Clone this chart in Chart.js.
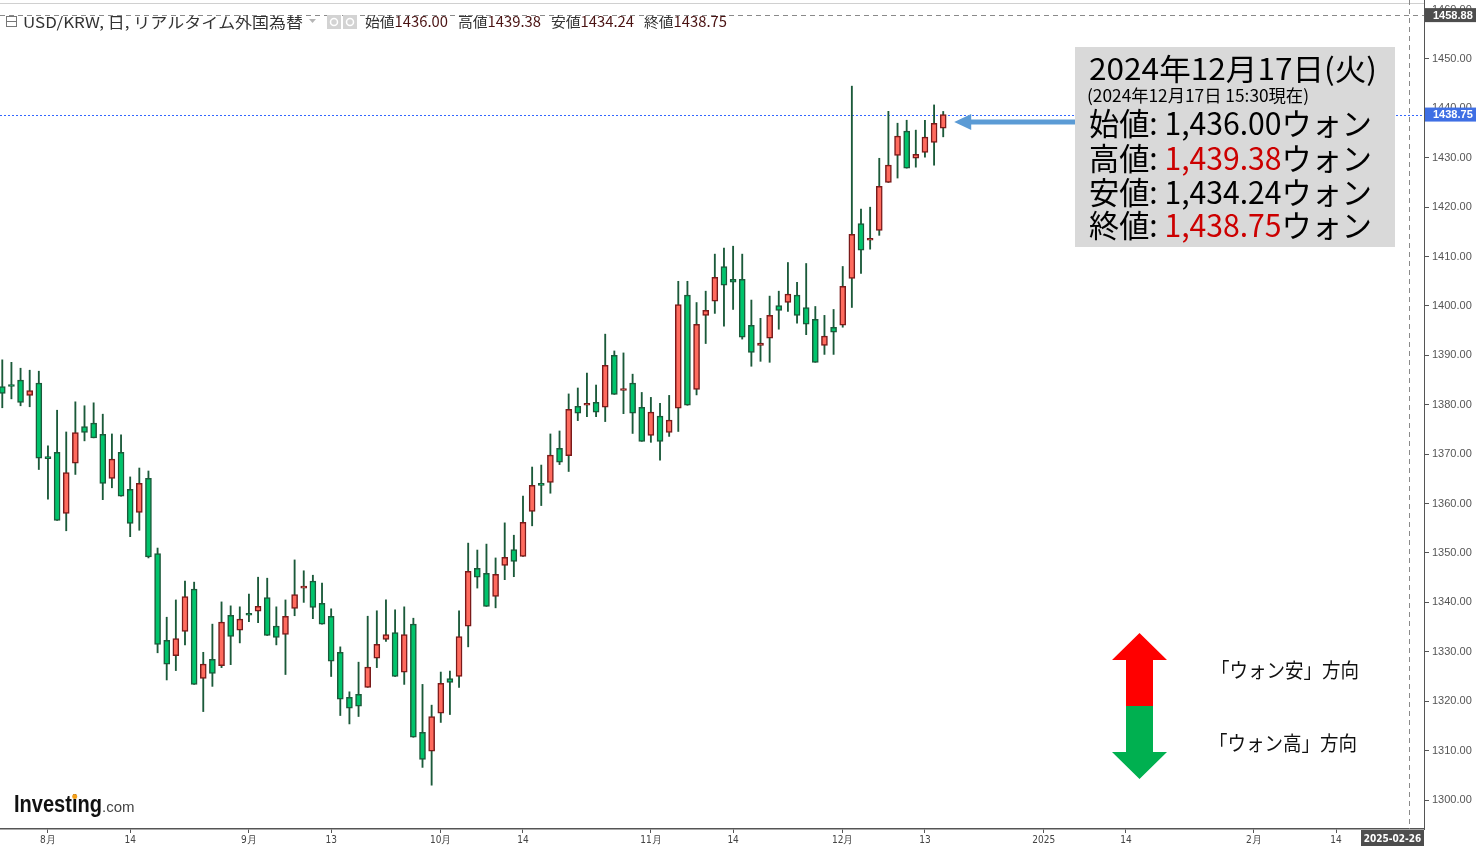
<!DOCTYPE html>
<html lang="ja">
<head>
<meta charset="utf-8">
<title>USD/KRW 日足</title>
<script src="https://cdn.jsdelivr.net/npm/chart.js@4.4.1/dist/chart.umd.min.js"></script>
<style>
  html, body { margin: 0; padding: 0; background: #fff; }
  #wrap { position: relative; width: 1476px; height: 846px; }
</style>
</head>
<body>
<div id="wrap"><canvas id="chart"></canvas></div>
<script>
// trading days shown (FX, weekdays only)
const dates = [
  "2024-07-25","2024-07-26","2024-07-29","2024-07-30","2024-07-31",
  "2024-08-01","2024-08-02","2024-08-05","2024-08-06","2024-08-07","2024-08-08","2024-08-09",
  "2024-08-12","2024-08-13","2024-08-14","2024-08-15","2024-08-16","2024-08-19","2024-08-20",
  "2024-08-21","2024-08-22","2024-08-23","2024-08-26","2024-08-27","2024-08-28","2024-08-29","2024-08-30",
  "2024-09-02","2024-09-03","2024-09-04","2024-09-05","2024-09-06","2024-09-09","2024-09-10",
  "2024-09-11","2024-09-12","2024-09-13","2024-09-16","2024-09-17","2024-09-18","2024-09-19",
  "2024-09-20","2024-09-23","2024-09-24","2024-09-25","2024-09-26","2024-09-27","2024-09-30",
  "2024-10-01","2024-10-02","2024-10-03","2024-10-04","2024-10-07","2024-10-08","2024-10-09",
  "2024-10-10","2024-10-11","2024-10-14","2024-10-15","2024-10-16","2024-10-17","2024-10-18",
  "2024-10-21","2024-10-22","2024-10-23","2024-10-24","2024-10-25","2024-10-28","2024-10-29",
  "2024-10-30","2024-10-31",
  "2024-11-01","2024-11-04","2024-11-05","2024-11-06","2024-11-07","2024-11-08","2024-11-11",
  "2024-11-12","2024-11-13","2024-11-14","2024-11-15","2024-11-18","2024-11-19","2024-11-20",
  "2024-11-21","2024-11-22","2024-11-25","2024-11-26","2024-11-27","2024-11-28","2024-11-29",
  "2024-12-02","2024-12-03","2024-12-04","2024-12-05","2024-12-06","2024-12-09","2024-12-10",
  "2024-12-11","2024-12-12","2024-12-13","2024-12-16","2024-12-17"
];

const openPx = [
  1383.7, 1383.8, 1385.0, 1381.9, 1384.4, 1369.2, 1370.4, 1358.0, 1368.2, 1375.6,
  1376.3, 1374.0, 1365.1, 1370.4, 1362.9, 1358.2, 1365.1, 1349.9, 1332.3, 1329.2,
  1334.1, 1342.7, 1324.6, 1328.5, 1327.2, 1337.4, 1334.4, 1337.5, 1338.2, 1341.0,
  1335.2, 1333.5, 1338.8, 1342.9, 1344.3, 1339.8, 1337.2, 1329.9, 1320.8, 1321.4,
  1322.8, 1328.7, 1332.5, 1333.9, 1325.9, 1335.6, 1313.7, 1309.9, 1317.6, 1324.6,
  1325.0, 1335.2, 1346.9, 1345.9, 1341.2, 1347.5, 1350.7, 1349.3, 1358.4, 1364.1,
  1364.3, 1371.2, 1369.7, 1379.7, 1379.9, 1380.5, 1379.5, 1390.0, 1382.9, 1384.4,
  1379.5, 1373.8, 1377.7, 1374.4, 1379.3, 1402.2, 1383.1, 1398.1, 1401.0, 1408.0,
  1405.4, 1405.4, 1396.1, 1392.0, 1393.5, 1400.1, 1400.7, 1402.2, 1399.7, 1397.3,
  1392.0, 1395.7, 1396.1, 1405.6, 1416.7, 1413.3, 1415.3, 1425.0, 1430.5, 1435.4,
  1429.9, 1431.1, 1433.1, 1436.00
];
const highPx = [
  1389.1, 1388.6, 1387.4, 1387.0, 1386.8, 1371.7, 1378.9, 1374.5, 1380.6, 1379.8,
  1380.4, 1378.1, 1374.1, 1373.9, 1365.4, 1367.2, 1366.6, 1351.0, 1337.0, 1340.5,
  1344.3, 1344.1, 1329.9, 1335.6, 1340.1, 1339.3, 1339.1, 1341.7, 1345.1, 1344.9,
  1339.1, 1340.5, 1348.6, 1346.4, 1345.5, 1343.9, 1338.7, 1331.0, 1321.9, 1327.9,
  1337.2, 1338.3, 1340.5, 1338.5, 1339.1, 1336.8, 1323.4, 1319.2, 1325.9, 1326.1,
  1338.3, 1352.0, 1350.6, 1351.8, 1349.0, 1356.1, 1353.6, 1361.5, 1367.4, 1367.8,
  1374.1, 1374.7, 1382.2, 1383.4, 1386.4, 1384.0, 1394.3, 1390.9, 1390.5, 1386.2,
  1382.5, 1381.5, 1380.3, 1381.9, 1405.0, 1405.0, 1400.7, 1403.0, 1410.5, 1411.7,
  1412.1, 1410.5, 1401.2, 1397.5, 1402.0, 1403.0, 1408.8, 1404.8, 1408.6, 1399.9,
  1398.1, 1399.3, 1408.0, 1444.5, 1419.6, 1420.0, 1429.9, 1439.4, 1437.0, 1437.6,
  1435.6, 1437.6, 1440.7, 1439.38
];
const lowPx = [
  1379.4, 1381.2, 1379.8, 1379.6, 1366.9, 1360.9, 1356.6, 1354.5, 1365.9, 1372.7,
  1373.3, 1360.8, 1363.2, 1361.5, 1353.3, 1354.6, 1349.0, 1329.8, 1324.3, 1326.2,
  1331.4, 1323.4, 1317.9, 1323.0, 1326.8, 1327.4, 1331.8, 1336.1, 1335.9, 1333.3,
  1331.4, 1325.4, 1337.3, 1340.0, 1336.7, 1335.6, 1325.0, 1317.1, 1315.4, 1316.9,
  1322.8, 1326.8, 1332.1, 1325.0, 1323.4, 1312.7, 1306.6, 1303.0, 1315.7, 1317.3,
  1322.8, 1331.0, 1342.9, 1339.2, 1338.9, 1344.6, 1345.2, 1349.3, 1355.5, 1359.6,
  1362.1, 1367.9, 1366.5, 1376.8, 1377.6, 1377.6, 1376.6, 1382.1, 1378.2, 1374.2,
  1372.6, 1372.4, 1368.8, 1373.6, 1374.6, 1379.9, 1382.0, 1392.4, 1398.5, 1395.9,
  1399.3, 1393.3, 1387.8, 1388.8, 1388.6, 1395.3, 1398.9, 1396.5, 1394.2, 1388.6,
  1390.2, 1390.2, 1395.7, 1399.7, 1406.6, 1411.5, 1414.3, 1425.0, 1425.9, 1427.9,
  1428.1, 1430.1, 1428.5, 1434.24
];
const closePx = [
  1382.3, 1383.7, 1380.5, 1382.9, 1369.2, 1369.1, 1356.6, 1366.3, 1374.4, 1374.4,
  1373.3, 1364.1, 1369.0, 1361.5, 1356.0, 1364.1, 1349.2, 1331.5, 1327.5, 1332.7,
  1341.2, 1323.4, 1327.5, 1325.6, 1336.0, 1333.1, 1336.6, 1337.4, 1339.2, 1333.3,
  1332.9, 1337.2, 1341.6, 1343.3, 1339.0, 1335.6, 1328.1, 1320.4, 1318.6, 1319.0,
  1326.9, 1331.5, 1333.5, 1325.0, 1333.5, 1312.7, 1308.2, 1316.9, 1323.6, 1323.8,
  1333.1, 1346.3, 1345.1, 1339.2, 1345.7, 1349.1, 1348.3, 1356.2, 1363.7, 1363.7,
  1369.8, 1368.4, 1379.1, 1378.3, 1380.0, 1378.5, 1388.0, 1382.1, 1383.3, 1378.3,
  1372.6, 1378.5, 1372.6, 1376.9, 1400.3, 1379.9, 1396.3, 1399.1, 1405.8, 1404.2,
  1404.8, 1393.7, 1390.6, 1392.5, 1398.1, 1399.1, 1402.4, 1398.1, 1396.3, 1388.6,
  1393.9, 1394.7, 1404.0, 1414.5, 1411.3, 1413.4, 1424.2, 1428.5, 1434.4, 1427.9,
  1430.7, 1434.2, 1437.0, 1438.75
];

// x axis: bar index positions of the tick labels (future days continue the weekday count)
const xTickIdx = [5, 14, 27, 36, 48, 57, 71, 80, 92, 101, 114, 123, 137, 146];
const xTickLabels = ["8月", "14", "9月", "13", "10月", "14", "11月", "14", "12月", "13", "2025", "14", "2月", "14"];
const yTicks = [1300, 1310, 1320, 1330, 1340, 1350, 1360, 1370, 1380, 1390, 1400, 1410, 1420, 1430, 1440, 1450, 1460];

// crosshair shown in the screenshot
const crossIdx = 154;
const crossDate = "2025-02-26";
const crossPrice = 1458.88;

const quoteNames = ["始値", "高値", "安値", "終値"];

const UP_FILL = "#ff6b5e", UP_LINE = "#7a1a1a";
const DN_FILL = "#00c46c", DN_LINE = "#1b5a3a";
const WICK = "#1b5a3a";
const JP = '"Noto Sans CJK JP", "Noto Sans", sans-serif';
const LAT = '"Liberation Sans", Arial, sans-serif';
const NARROW = '"Liberation Sans Narrow", "DejaVu Sans Condensed", "Liberation Sans", sans-serif';

const last = closePx.length - 1;
const isUp = closePx.map((c, i) => c >= openPx[i]);

function drawSegs(ctx, segs, x, y, font, width) {
  ctx.save();
  ctx.font = font;
  ctx.textBaseline = "middle";
  ctx.textAlign = "left";
  let total = 0;
  segs.forEach(s => { total += ctx.measureText(s[0]).width; });
  ctx.translate(x, y);
  ctx.scale(width / total, 1);
  let cx = 0;
  segs.forEach(s => {
    ctx.fillStyle = s[1];
    ctx.fillText(s[0], cx, 0);
    cx += ctx.measureText(s[0]).width;
  });
  ctx.restore();
}

function fmt(v) {
  return v.toLocaleString("en-US", { minimumFractionDigits: 2, maximumFractionDigits: 2 });
}

const overlay = {
  id: "overlay",
  beforeDatasetsDraw(chart) {
    const { ctx, chartArea: a, scales: { x, y } } = chart;
    ctx.save();
    ctx.lineWidth = 1;
    ctx.strokeStyle = "#d0d0d0";
    ctx.beginPath(); ctx.moveTo(0, 3.5); ctx.lineTo(a.right, 3.5); ctx.stroke();

    // crosshair lines
    ctx.setLineDash([5, 4]);
    ctx.strokeStyle = "#8a8a8a";
    const cy = Math.round(y.getPixelForValue(crossPrice)) + 0.5;
    ctx.beginPath(); ctx.moveTo(a.left, cy); ctx.lineTo(a.right, cy); ctx.stroke();
    const cx = Math.round(x.getPixelForValue(crossIdx)) + 0.5;
    ctx.beginPath(); ctx.moveTo(cx, a.top); ctx.lineTo(cx, a.bottom); ctx.stroke();

    // last price line
    ctx.setLineDash([2, 2]);
    ctx.strokeStyle = "#3366ff";
    const ly = Math.round(y.getPixelForValue(closePx[last])) + 0.5;
    ctx.beginPath(); ctx.moveTo(a.left, ly); ctx.lineTo(a.right, ly); ctx.stroke();
    ctx.restore();
  },
  afterDraw(chart) {
    const { ctx, chartArea: a, scales: { x, y } } = chart;
    ctx.save();

    // price tags on the right axis
    function priceTag(val, bg) {
      const py = y.getPixelForValue(val);
      ctx.fillStyle = bg;
      ctx.fillRect(a.right + 1, py - 7, chart.width - a.right - 1, 14);
      ctx.fillStyle = "#fff";
      ctx.font = "bold 11px " + LAT;
      ctx.textBaseline = "middle";
      ctx.textAlign = "left";
      ctx.fillText(val.toFixed(2), a.right + 9, py + 0.5);
    }
    priceTag(crossPrice, "#4d4d4d");
    priceTag(closePx[last], "#3f6fe4");

    // date tag on the bottom axis
    const cx = x.getPixelForValue(crossIdx);
    const tw = 63;
    const tl = Math.min(cx - tw / 2, a.right - tw);
    ctx.fillStyle = "#4d4d4d";
    ctx.fillRect(tl, a.bottom + 1, tw, chart.height - a.bottom - 1);
    ctx.fillStyle = "#fff";
    ctx.font = "bold 10px " + NARROW;
    ctx.textAlign = "center";
    ctx.textBaseline = "middle";
    ctx.fillText(crossDate, tl + tw / 2, a.bottom + 10);

    // header line
    ctx.strokeStyle = "#777";
    ctx.lineWidth = 1;
    ctx.strokeRect(6.5, 16.5, 10, 10);
    ctx.beginPath(); ctx.moveTo(6.5, 21.5); ctx.lineTo(16.5, 21.5); ctx.stroke();
    drawSegs(ctx, [["USD/KRW, 日, リアルタイム外国為替", "#333"]], 23, 22, "15px " + JP, 280);
    ctx.fillStyle = "#b5b5b5";
    ctx.beginPath(); ctx.moveTo(309, 19); ctx.lineTo(316, 19); ctx.lineTo(312.5, 23); ctx.closePath(); ctx.fill();
    [327, 343].forEach(ix => {
      ctx.fillStyle = "#d3d3d3";
      ctx.fillRect(ix, 15, 14, 14);
      ctx.strokeStyle = "#fff";
      ctx.lineWidth = 1.5;
      ctx.beginPath(); ctx.arc(ix + 7, 22, 3.5, 0, Math.PI * 2); ctx.stroke();
    });
    const hdrVals = [openPx[last], highPx[last], lowPx[last], closePx[last]];
    quoteNames.forEach((nm, i) => {
      drawSegs(ctx, [[nm, "#333"], [hdrVals[i].toFixed(2), "#4a1212"]], 365 + i * 93, 22, "14px " + JP, 83);
    });

    // quote box
    ctx.fillStyle = "#d9d9d9";
    ctx.fillRect(1075, 47, 320, 200);
    drawSegs(ctx, [["2024年12月17日(火)", "#000"]], 1089, 69, "30px " + JP, 288);
    drawSegs(ctx, [["(2024年12月17日 15:30現在)", "#000"]], 1087, 96, "17px " + JP, 222);
    const rowY = [123, 158, 192, 225];
    const rowCol = ["#000", "#cc0000", "#000", "#cc0000"];
    quoteNames.forEach((nm, i) => {
      drawSegs(ctx, [[nm, "#000"], [": ", "#000"], [fmt(hdrVals[i]), rowCol[i]], ["ウォン", "#000"]],
        1089, rowY[i], "31px " + JP, 283);
    });

    // blue arrow pointing to the last candle
    const tipX = x.getPixelForValue(last) + 11;
    ctx.fillStyle = "#5b9bd5";
    ctx.beginPath();
    ctx.moveTo(tipX, 122);
    ctx.lineTo(tipX + 17, 114);
    ctx.lineTo(tipX + 17, 119.5);
    ctx.lineTo(1075, 119.5);
    ctx.lineTo(1075, 124.5);
    ctx.lineTo(tipX + 17, 124.5);
    ctx.lineTo(tipX + 17, 130);
    ctx.closePath();
    ctx.fill();

    // direction arrows
    ctx.fillStyle = "#ff0000";
    ctx.beginPath();
    ctx.moveTo(1139.5, 633); ctx.lineTo(1167, 660); ctx.lineTo(1153, 660); ctx.lineTo(1153, 706);
    ctx.lineTo(1126, 706); ctx.lineTo(1126, 660); ctx.lineTo(1112, 660); ctx.closePath(); ctx.fill();
    ctx.fillStyle = "#00b050";
    ctx.beginPath();
    ctx.moveTo(1126, 706); ctx.lineTo(1153, 706); ctx.lineTo(1153, 752); ctx.lineTo(1167, 752);
    ctx.lineTo(1139.5, 779); ctx.lineTo(1112, 752); ctx.lineTo(1126, 752); ctx.closePath(); ctx.fill();
    drawSegs(ctx, [["「ウォン安」方向", "#111"]], 1211, 670, "20px " + JP, 148);
    drawSegs(ctx, [["「ウォン高」方向", "#111"]], 1209, 743, "20px " + JP, 148);

    // logo
    ctx.font = "bold 23px " + LAT;
    ctx.textBaseline = "alphabetic";
    ctx.textAlign = "left";
    const wInv = ctx.measureText("Investing").width;
    const sInv = 88 / wInv;
    const dotX = 14 + sInv * (ctx.measureText("Invest").width + ctx.measureText("i").width / 2);
    ctx.save();
    ctx.translate(14, 812);
    ctx.scale(sInv, 1);
    ctx.fillStyle = "#111";
    ctx.fillText("Investing", 0, 0);
    ctx.restore();
    ctx.fillStyle = "#f5a01a";
    ctx.beginPath(); ctx.arc(dotX, 796.5, 2.5, 0, Math.PI * 2); ctx.fill();
    ctx.font = "15px " + LAT;
    ctx.fillStyle = "#444";
    ctx.fillText(".com", 102, 812);

    ctx.restore();
  }
};

const ctx = document.getElementById("chart").getContext("2d");
new Chart(ctx, {
  type: "bar",
  data: {
    datasets: [
      {
        label: "wick",
        data: dates.map((d, i) => ({ x: i, y: [lowPx[i], highPx[i]] })),
        backgroundColor: WICK,
        borderWidth: 0,
        barThickness: 1.2,
        grouped: false,
        order: 2
      },
      {
        label: "body",
        data: dates.map((d, i) => ({ x: i, y: [openPx[i], closePx[i]] })),
        backgroundColor: isUp.map(u => (u ? UP_FILL : DN_FILL)),
        borderColor: isUp.map(u => (u ? UP_LINE : DN_LINE)),
        borderWidth: 1.5,
        borderSkipped: false,
        barThickness: 6,
        minBarLength: 2,
        grouped: false,
        order: 1
      }
    ]
  },
  options: {
    responsive: true,
    maintainAspectRatio: false,
    animation: false,
    events: [],
    layout: { padding: 0 },
    plugins: { legend: { display: false }, tooltip: { enabled: false } },
    scales: {
      x: {
        type: "linear",
        min: -0.25,
        max: 155.63,
        offset: false,
        afterBuildTicks: s => { s.ticks = xTickIdx.map(v => ({ value: v })); },
        afterFit: s => { s.height = 17; s.paddingLeft = 0; s.paddingRight = 0; },
        grid: { drawOnChartArea: false, tickLength: 4, color: "#555", offset: false },
        border: { display: true, color: "#555", width: 1.5 },
        ticks: {
          autoSkip: false, maxRotation: 0, padding: 1, color: "#444",
          font: { family: NARROW, size: 10 },
          callback: (v, i) => xTickLabels[i]
        }
      },
      y: {
        type: "linear",
        position: "right",
        min: 1294.13,
        max: 1461.94,
        afterBuildTicks: s => { s.ticks = yTicks.map(v => ({ value: v })); },
        afterFit: s => { s.width = 52; s.paddingTop = 0; s.paddingBottom = 0; },
        grid: { drawOnChartArea: false, tickLength: 5, color: "#555" },
        border: { display: true, color: "#555", width: 1 },
        ticks: {
          padding: 3, color: "#555",
          font: { family: LAT, size: 11 },
          callback: v => Number(v).toFixed(2)
        }
      }
    }
  },
  plugins: [overlay]
});
</script>
</body>
</html>
